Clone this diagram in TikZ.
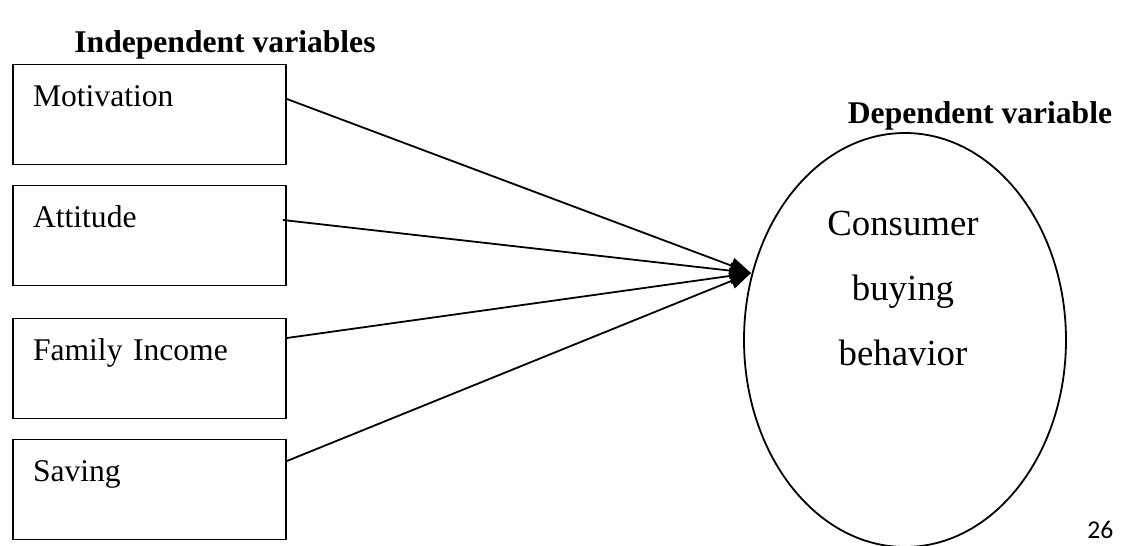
\documentclass[tikz,border=0pt]{standalone}
\usepackage{fontspec}
\setmainfont{Liberation Serif}
\newfontfamily\pagefont{Carlito}
\usepackage{tikz}
\usetikzlibrary{arrows.meta,shapes.geometric}
\tikzset{
  varbox/.style={rectangle,draw=black,line width=0.9pt,inner sep=0pt,inner xsep=10pt,
    text width=116.5pt,align=left,text height=21pt,text depth=29pt,
    font=\fontsize{15.8}{19}\selectfont},
  depell/.style={ellipse,draw=black,line width=0.9pt,inner sep=0pt,
    minimum width=161pt,minimum height=207pt},
  ar/.style={-{Triangle[length=10.5pt,width=8pt]},line width=0.9pt,draw=black},
  hdr/.style={font=\fontsize{15.8}{19}\selectfont\bfseries,anchor=base,inner sep=0pt},
}

\begin{document}
\begin{tikzpicture}[x=0.5pt,y=-0.5pt]
  \useasboundingbox (0,0) rectangle (1126,546);
  % headings
  \node[hdr] (indep) at (225,53) {Independent variables};
  \node[hdr] (dep) at (980,123) {Dependent variable};
  % independent variables
  \node[varbox] (mot) at (149.5,114.5) {Motivation};
  \node[varbox] (att) at (149.5,235.5) {Attitude};
  \node[varbox] (inc) at (149.5,368.5) {Family Income};
  \node[varbox] (sav) at (149.5,489.5) {Saving};
  % dependent variable
  \node[depell] (cbb) at (905,340) {};
  \node[font=\fontsize{18.4}{32.5}\selectfont,align=center,inner sep=0pt] (cbbtxt) at (903,288) {Consumer\\buying\\behavior};
  \coordinate (hub) at (751,273);
  \draw[ar] ([yshift=7.75pt]mot.east) -- (hub);
  \draw[ar] ([yshift=7.75pt,xshift=-2pt]att.east) -- (hub);
  \draw[ar] ([yshift=15.25pt]inc.east) -- (hub);
  \draw[ar] ([yshift=14.25pt]sav.east) -- (hub);
  % page number
  \node[font=\pagefont\fontsize{12.8}{15}\selectfont,anchor=base west,inner sep=0pt] (pg) at (1087,538) {26};
\end{tikzpicture}
\end{document}
